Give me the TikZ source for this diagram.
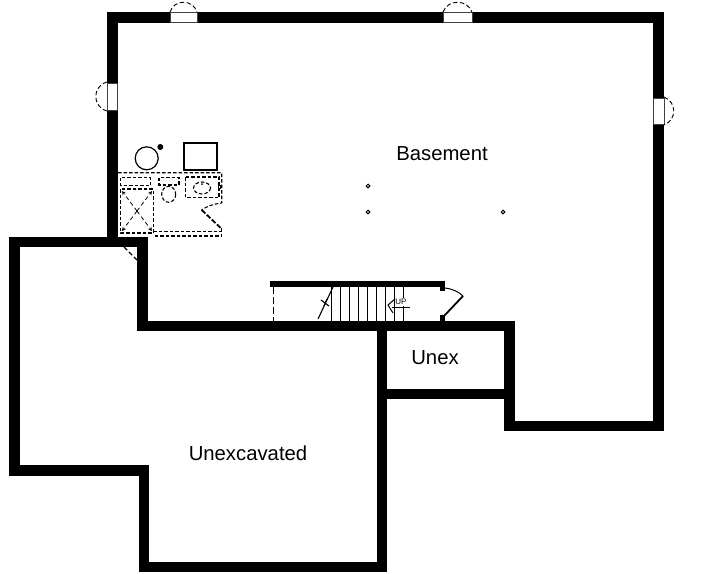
\documentclass[tikz,border=0pt]{standalone}
\usepackage{fontspec}
\setmainfont{Liberation Sans}
\usetikzlibrary{arrows}
\tikzset{
  wall/.style={line width=10.5pt,line join=miter},
  partwall/.style={line width=10pt,line join=miter},
  winframe/.style={draw=black!75,fill=white,line width=0.9pt},
  swing/.style={line width=0.9pt,dash pattern=on 4.5pt off 2.5pt},
  fixture/.style={line width=1.1pt,dash pattern=on 3.5pt off 2pt},
  showerx/.style={line width=0.8pt,dash pattern=on 4pt off 3pt,->,>=stealth},
  label/.style={font=\fontsize{20.3}{24}\selectfont}
}
\begin{document}
\begin{tikzpicture}[x=1pt,y=-1pt]
      \useasboundingbox[fill=white] (0,0) rectangle (725,573);
      % outer walls
      \draw[wall] (112.5,242) to (112.5,17.5) to (658.5,17.5) to (658.5,426) to (509.5,426) to (509.5,326) to (142.5,326) to (142.5,242) to (14.5,242) to (14.5,470.5) to (144,470.5) to (144,567) to (382,567) to (382,326);
      \draw[partwall] (382,394) to (509.5,394);
      % windows
      \draw[winframe] (170,12.5) rectangle (197,22.5);
      \draw[winframe] (443,12.5) rectangle (472,22.5);
      \draw[winframe] (107,83) rectangle (117.5,110);
      \draw[winframe] (653,98) rectangle (664,124);
      \draw[swing] (170,12) .. controls (174,-1) and (193,-1) .. (197,12);
      \draw[swing] (443,12) .. controls (448,-1) and (467,-1) .. (472,12);
      \draw[swing] (107,82) .. controls (92,86) and (92,107) .. (107,111);
      \draw[swing] (664,97) .. controls (677,102) and (677,120) .. (664,125);
      % door in the corner
      \draw[swing,line width=1.1pt] (124,247) to (137,260);
      % stairs
      \draw[line width=6pt] (270,284) to (445,284);
      \fill (440,284) rectangle (445,291);
      \fill (440,315) rectangle (445,322);
      \draw[line width=1pt,dash pattern=on 7pt off 3pt] (273.5,287) to (273.5,321);
      \foreach \tx in {331,340,349,358,367,376,385,394,403} {
        \draw[line width=1pt] (\tx,287) to (\tx,321);
      }
      \draw[line width=1.1pt] (318,319) to (333,287);
      \draw[line width=1.1pt] (321,300) to (329,306);
      \draw[line width=1.1pt] (324,306) to (327,299);
      \draw[line width=1pt] (445,288) .. controls (453,289) and (459,292) .. (463,296);
      \draw[line width=1.8pt] (463,296) to (444,316);
      \fill[white] (395,298) rectangle (408,305.5);
      \draw[line width=1pt] (410,307) to (392,307);
      \draw[line width=1pt] (395,299) to (388,305) to (393,313);
      \node[font=\fontsize{8}{9}\selectfont,inner sep=0pt] (uplabel) at (401,301.5) {UP};
      % furnace and tank
      \draw[line width=1.2pt] (146.7,158.3) circle (11.5);
      \fill (160.3,147) circle (3);
      \draw[line width=1.2pt] (184,143) rectangle (217,170);
      % bath
      \draw[fixture] (118,172.7) to (221.7,172.7) to (221.7,203) .. controls (214,204) and (207,206) .. (201.7,210);
      \draw[line width=1.8pt,dash pattern=on 5pt off 2pt] (201.7,210) to (220.7,228);
      \draw[fixture] (221.5,228) to (221.5,236) to (153,236);
      \draw[fixture] (153,231.7) to (221.5,231.7);
      \draw[fixture] (120.7,189) rectangle (153.3,233);
      \draw[showerx] (137,211) to (122,191);
      \draw[showerx] (137,211) to (152,191);
      \draw[showerx] (137,211) to (122,231);
      \draw[showerx] (137,211) to (152,231);
      \draw[fixture] (120.7,177.7) rectangle (150.7,185.7);
      \draw[fixture] (159,177.7) rectangle (179,185);
      \draw[fixture] (168.7,194.3) ellipse (7 and 8);
      \draw[fixture] (185.7,177) rectangle (219,197.7);
      \draw[fixture] (202,188) ellipse (8.5 and 6);
      \fill (202,184) circle (1);
      \draw[line width=1pt] (218,185.5) rectangle (220.5,188.5);
      % posts
      \draw[line width=1pt] (368,186) circle (1.8);
      \draw[line width=1pt] (368,212) circle (1.8);
      \draw[line width=1pt] (503,212) circle (1.8);
      % room names
      \node[label] (basement) at (442,154) {Basement};
      \node[label] (unex) at (435,358) {Unex};
      \node[label] (unexcavated) at (248,453) {Unexcavated};
    \end{tikzpicture}
\end{document}
